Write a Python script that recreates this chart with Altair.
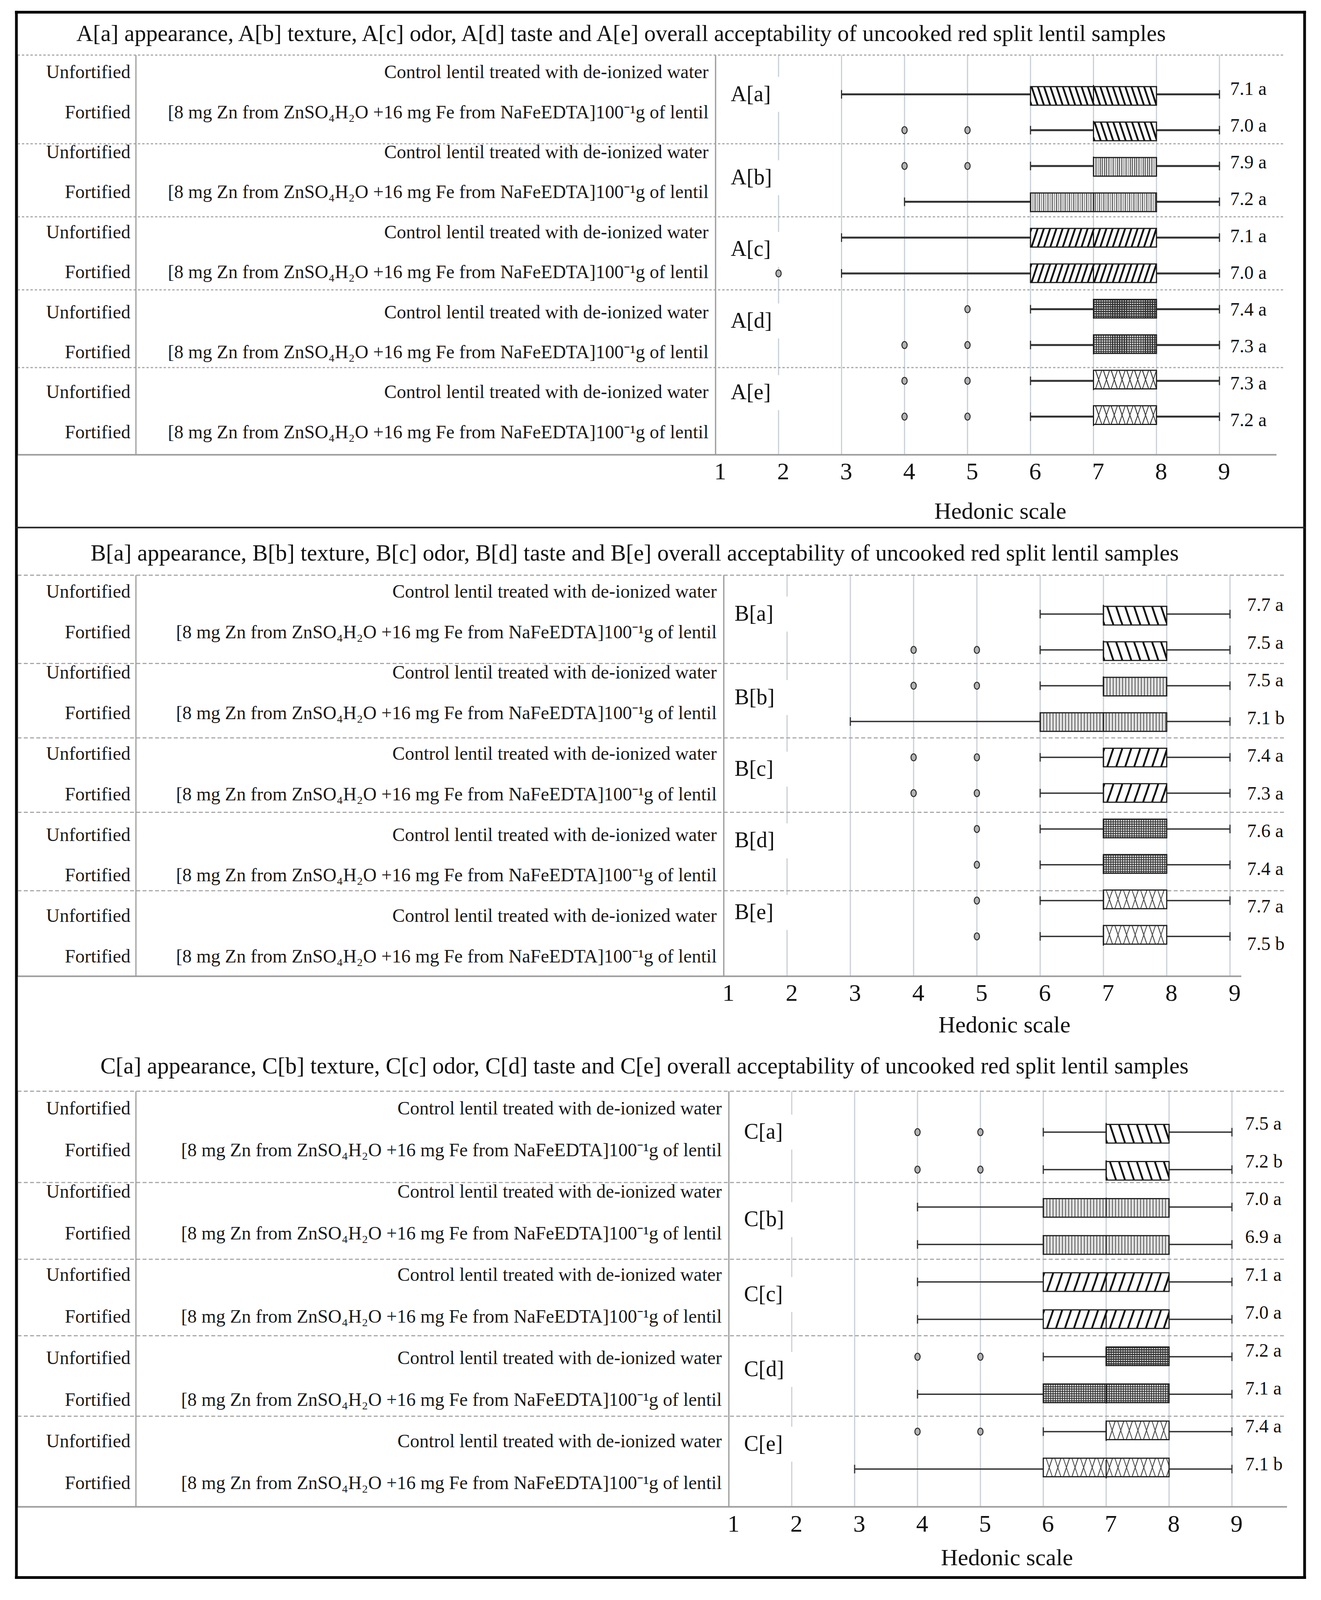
import altair as alt
import pandas as pd

SERIF = "Liberation Serif"

# ---------------- data ----------------
PANELS = ["A", "B", "C"]
TITLES = [
    "A[a] appearance, A[b] texture, A[c] odor, A[d] taste and A[e] overall acceptability of uncooked red split lentil samples",
    "B[a] appearance, B[b] texture, B[c] odor, B[d] taste and B[e] overall acceptability of uncooked red split lentil samples",
    "C[a] appearance, C[b] texture, C[c] odor, C[d] taste and C[e] overall acceptability of uncooked red split lentil samples",
]
TREATMENTS = ["Unfortified", "Fortified"]
DESCRIPTIONS = [
    "Control lentil treated with de-ionized water",
    "[8 mg Zn from ZnSO\u2084H\u2082O +16 mg Fe from NaFeEDTA]100\u207b\u00b9g of lentil",
]
ATTRIBUTES = ["a", "b", "c", "d", "e"]
HEDONIC_TICKS = [1, 2, 3, 4, 5, 6, 7, 8, 9]
AXIS_TITLE = "Hedonic scale"

# rows: [a] Unfortified, [a] Fortified, [b] Unfortified, ... [e] Fortified
WHISKER_LOW_A = [3, 6, 6, 4, 3, 3, 6, 6, 6, 6]
Q1_A = [6, 7, 7, 6, 6, 6, 7, 7, 7, 7]
MEDIAN_A = [7, 7, 7, 7, 7, 7, 7, 7, 7, 7]
Q3_A = [8, 8, 8, 8, 8, 8, 8, 8, 8, 8]
WHISKER_HIGH_A = [9, 9, 9, 9, 9, 9, 9, 9, 9, 9]
OUTLIERS_A = [[], [4, 5], [4, 5], [], [], [2], [5], [4, 5], [4, 5], [4, 5]]
MEANS_A = ["7.1 a", "7.0 a", "7.9 a", "7.2 a", "7.1 a", "7.0 a", "7.4 a", "7.3 a", "7.3 a", "7.2 a"]

WHISKER_LOW_B = [6, 6, 6, 3, 6, 6, 6, 6, 6, 6]
Q1_B = [7, 7, 7, 6, 7, 7, 7, 7, 7, 7]
MEDIAN_B = [7, 7, 7, 7, 7, 7, 7, 7, 7, 7]
Q3_B = [8, 8, 8, 8, 8, 8, 8, 8, 8, 8]
WHISKER_HIGH_B = [9, 9, 9, 9, 9, 9, 9, 9, 9, 9]
OUTLIERS_B = [[], [4, 5], [4, 5], [], [4, 5], [4, 5], [5], [5], [5], [5]]
MEANS_B = ["7.7 a", "7.5 a", "7.5 a", "7.1 b", "7.4 a", "7.3 a", "7.6 a", "7.4 a", "7.7 a", "7.5 b"]

WHISKER_LOW_C = [6, 6, 4, 4, 4, 4, 6, 4, 6, 3]
Q1_C = [7, 7, 6, 6, 6, 6, 7, 6, 7, 6]
MEDIAN_C = [7, 7, 7, 7, 7, 7, 7, 7, 7, 7]
Q3_C = [8, 8, 8, 8, 8, 8, 8, 8, 8, 8]
WHISKER_HIGH_C = [9, 9, 9, 9, 9, 9, 9, 9, 9, 9]
OUTLIERS_C = [[4, 5], [4, 5], [], [], [], [], [4, 5], [], [4, 5], []]
MEANS_C = ["7.5 a", "7.2 b", "7.0 a", "6.9 a", "7.1 a", "7.0 a", "7.2 a", "7.1 a", "7.4 a", "7.1 b"]

DATA = {
    "A": dict(lo=WHISKER_LOW_A, q1=Q1_A, med=MEDIAN_A, q3=Q3_A, hi=WHISKER_HIGH_A, out=OUTLIERS_A, mean=MEANS_A),
    "B": dict(lo=WHISKER_LOW_B, q1=Q1_B, med=MEDIAN_B, q3=Q3_B, hi=WHISKER_HIGH_B, out=OUTLIERS_B, mean=MEANS_B),
    "C": dict(lo=WHISKER_LOW_C, q1=Q1_C, med=MEDIAN_C, q3=Q3_C, hi=WHISKER_HIGH_C, out=OUTLIERS_C, mean=MEANS_C),
}

# ---------------- layout / style ----------------
# The photographed page is only ~4096 px tall, so the vertical layout is compressed by SY
SY = 4080 / 4713
OFF = 8                      # page margin
VIEW_W, VIEW_H = 3366, 4082


def vy(r):
    """reference-page y (px) -> view y"""
    return r * SY - OFF


TABLE_LEFT = 45 - OFF
W_TOTAL = 3245               # table + plot width of each panel
BORDER = dict(left=42 - OFF, right=3340 - OFF, top=vy(36), bottom=vy(4665), divider=vy(1560))
BOX_H = 55 * SY
GRID = "#c9d0d7"
TABLE_LINE = "#9c9c9c"

LAYOUT = {
    "A": dict(top=163, tw=1787, unit=161.25, ph=1182, b0=116, bs=105.9, t0=52, ts=118.3, l0=101, ls=108.9,
              seps=[262, 478, 694, 924], mean_x=9.17, glab_x=1.24, title_x=1545, title_y=-63,
              axis_title_y=168, axis_end=3223, dash=[6, 5], ww=5, diag=16),
    "B": dict(top=1701, tw=1808, unit=162.0, ph=1186, b0=115, bs=105.9, t0=50, ts=119.9, l0=90, ls=111.4,
              seps=[261, 481, 701, 933], mean_x=9.27, glab_x=1.17, title_x=1580, title_y=-64,
              axis_title_y=145, axis_end=3133, dash=[10, 6], ww=3.5, diag=23),
    "C": dict(top=3227, tw=1821, unit=161.0, ph=1229, b0=121, bs=110.7, t0=53, ts=123.0, l0=97, ls=112.0,
              seps=[270, 497, 723, 961], mean_x=9.21, glab_x=1.24, title_x=1605, title_y=-74,
              axis_title_y=152, axis_end=3250, dash=[10, 6], ww=3.5, diag=23),
}

CLEAR = "rgba(0,0,0,0)"


def patterns(p):
    d = LAYOUT[p]["diag"]
    if p == "A":
        return {
            "a": [("back", d, 5, "#111", "#ffffff")],
            "b": [("v", 5.5, 1.6, "#444", "#e2e2e2")],
            "c": [("fwd", d, 5, "#111", "#ffffff")],
            "d": [("v", 6, 2.2, "#333", "#d0d0d0"), ("h", 6, 2.2, "#333", CLEAR)],
            "e": [("fwd", 20, 2.5, "#444", "#ffffff"), ("back", 20, 2.5, "#444", CLEAR)],
        }
    return {
        "a": [("back", d, 5, "#111", "#ffffff")],
        "b": [("v", 8, 2.2, "#555", "#e0e0e0")],
        "c": [("fwd", d, 5, "#111", "#ffffff")],
        "d": [("v", 6, 2.4, "#333", "#d5d5d5"), ("h", 6, 2.4, "#333", CLEAR)],
        "e": [("fwd", 22, 2.5, "#555", "#ffffff"), ("back", 22, 2.5, "#555", CLEAR)],
    }


def gradient(kind, W, H, P, lw, col, bg, s=16.0):
    if kind == "v":
        x1, y1, x2, y2 = 0, 0, 1, 0
        per = P / W
    elif kind == "h":
        x1, y1, x2, y2 = 0, 0, 0, 1
        per = P / H
    else:
        dy = s / W
        K = 1 + dy
        per = P / (W * K * (1 + dy * dy))
        if kind == "fwd":
            x1, y1, x2, y2 = 0, 0, K, K * dy
        else:
            x1, y1, x2, y2 = 0, 1, K, 1 - K * dy
    f = lw / P
    stops = []
    k = 0
    while k * per < 1:
        a = k * per
        b = min(a + f * per, 1)
        c = min((k + 1) * per, 1)
        stops += [(a, col), (b, col), (b, bg), (c, bg)]
        k += 1
    return alt.LinearGradient(
        gradient="linear",
        stops=[alt.GradientStop(offset=round(o, 5), color=c) for o, c in stops],
        x1=x1, y1=y1, x2=x2, y2=y2,
    )


ELLIPSE = "M0,-1A0.75,1,0,1,1,0,1A0.75,1,0,1,1,0,-1Z"
WHITE_BAR = "M-0.15,-1H0.15V1H-0.15Z"


def one():
    return pd.DataFrame({"k": [0]})


def panel_layers(k):
    p = PANELS[k]
    L = LAYOUT[p]
    D = DATA[p]
    tw, unit, ph, b0, bs = L["tw"], L["unit"], L["ph"], L["b0"], L["bs"]
    ox = TABLE_LEFT
    oy = vy(L["top"])
    phs = ph * SY
    xmin = 1 - tw / unit
    xmax = 1 + (W_TOTAL - tw) / unit
    ymin = -b0 / bs
    ymax = (ph - b0) / bs
    xs = alt.Scale(domain=[xmin, xmax], range=[ox, ox + W_TOTAL], nice=False, zero=False)
    ys = alt.Scale(domain=[ymin, ymax], range=[oy, oy + phs], nice=False, zero=False)

    def X(f):
        return alt.X(f, type="quantitative", scale=xs, axis=None)

    def Y(f):
        return alt.Y(f, type="quantitative", scale=ys, axis=None)

    rows = []
    for i in range(10):
        g, t = divmod(i, 2)
        rows.append(dict(
            row=i, attr=ATTRIBUTES[g], trt=TREATMENTS[t], desc=DESCRIPTIONS[t],
            lo=D["lo"][i], q1=D["q1"][i], med=D["med"][i], q3=D["q3"][i], hi=D["hi"][i],
            mean=D["mean"][i], w=D["q3"][i] - D["q1"][i],
            ty=(L["t0"] + L["ts"] * i - b0) / bs,
            my=(L["l0"] + L["ls"] * i - b0) / bs,
            mx=L["mean_x"],
        ))
    df = pd.DataFrame(rows)

    out_rows = []
    for i, lst in enumerate(D["out"]):
        for v in lst:
            out_rows.append(dict(row=i, v=v))
    dfo = pd.DataFrame(out_rows)

    dfg = pd.DataFrame([
        dict(label=f"{p}[{a}]", gx=L["glab_x"], wx=2,
             gy=(0.0 if g == 0 else 2 * g + 0.5 - 18 / bs))
        for g, a in enumerate(ATTRIBUTES)
    ])

    dfs = pd.DataFrame({"sy": [(s - b0) / bs for s in [0] + L["seps"]]})
    dft = pd.DataFrame({"v": HEDONIC_TICKS})

    layers = []

    # vertical grid lines at the hedonic ticks
    layers.append(alt.Chart(dft).mark_rule(color=GRID, strokeWidth=3).encode(
        x=X("v"), y=alt.value(oy), y2=alt.value(oy + phs)))

    # table separators (dotted), table vertical lines
    layers.append(alt.Chart(dfs).mark_rule(color="#a8a8a8", strokeWidth=3, strokeDash=L["dash"]).encode(
        y=Y("sy"), x=alt.value(ox), x2=alt.value(ox + W_TOTAL)))
    for xv in [0, 303, tw]:
        layers.append(alt.Chart(one()).mark_rule(color=TABLE_LINE, strokeWidth=3).encode(
            x=alt.value(ox + xv), y=alt.value(oy), y2=alt.value(oy + phs)))
    # bottom line / hedonic axis line
    layers.append(alt.Chart(one()).mark_rule(color=TABLE_LINE, strokeWidth=4).encode(
        y=alt.value(oy + phs), x=alt.value(ox), x2=alt.value(ox + L["axis_end"])))
    # tick labels
    layers.append(alt.Chart(dft).mark_text(font=SERIF, fontSize=62, align="center", baseline="top",
                                           dx=12, color="#111").encode(
        x=X("v"), y=alt.value(oy + phs + 14), text="v:N"))
    # axis title
    layers.append(alt.Chart(pd.DataFrame({"t": [AXIS_TITLE]})).mark_text(
        font=SERIF, fontSize=60, align="center", baseline="middle", color="#111").encode(
        x=alt.value(ox + tw + (W_TOTAL - tw) / 2), y=alt.value(oy + phs + L["axis_title_y"] * SY),
        text="t:N"))

    # title
    layers.append(alt.Chart(pd.DataFrame({"t": [TITLES[k]]})).mark_text(
        font=SERIF, fontSize=59, align="center", baseline="middle", color="#111").encode(
        x=alt.value(ox + L["title_x"]), y=alt.value(oy + L["title_y"] * SY), text="t:N"))

    # table text
    layers.append(alt.Chart(df).mark_text(font=SERIF, fontSize=48, align="right", baseline="middle",
                                          color="#1a1a1a").encode(
        x=alt.value(ox + 289), y=Y("ty"), text="trt:N"))
    layers.append(alt.Chart(df).mark_text(font=SERIF, fontSize=48, align="right", baseline="middle",
                                          color="#1a1a1a").encode(
        x=alt.value(ox + tw - 18), y=Y("ty"), text="desc:N"))

    # whiskers
    layers.append(alt.Chart(df).mark_rule(color="#333", strokeWidth=L["ww"]).encode(
        x=X("lo"), x2=alt.X2("hi"), y=Y("row")))
    # whisker caps
    layers.append(alt.Chart(df).transform_fold(["lo", "hi"], as_=["end", "xv"]).mark_tick(
        orient="vertical", size=22, thickness=3, color="#333", opacity=1).encode(
        x=X("xv"), y=Y("row")))

    # pattern-filled boxes
    pats = patterns(p)
    for a in ATTRIBUTES:
        for wv in (1, 2):
            sub = df[(df["attr"] == a) & (df["w"] == wv)]
            if len(sub) == 0:
                continue
            for spec in pats[a]:
                kind, P, lw, col, bg = spec
                g = gradient(kind, wv * unit, BOX_H, P, lw, col, bg)
                layers.append(alt.Chart(sub).mark_bar(orient="horizontal", size=BOX_H, fill=g,
                                                      strokeWidth=0, opacity=1).encode(
                    x=X("q1"), x2=alt.X2("q3"), y=Y("row")))
    # box outlines
    layers.append(alt.Chart(df).mark_bar(orient="horizontal", size=BOX_H, filled=False,
                                         stroke="#1e1e1e", strokeWidth=3, opacity=1).encode(
        x=X("q1"), x2=alt.X2("q3"), y=Y("row")))
    # medians
    layers.append(alt.Chart(df).mark_tick(orient="vertical", size=BOX_H, thickness=3,
                                          color="#1e1e1e", opacity=1).encode(
        x=X("med"), y=Y("row")))
    # outliers
    layers.append(alt.Chart(dfo).mark_point(shape=ELLIPSE, size=324, filled=True, fill="#b3b3b3",
                                            stroke="#2a2a2a", strokeWidth=2.5, opacity=1).encode(
        x=X("v"), y=Y("row")))
    # mean labels
    layers.append(alt.Chart(df).mark_text(font=SERIF, fontSize=48, align="left", baseline="middle",
                                          color="#111").encode(
        x=X("mx"), y=Y("my"), text="mean:N"))
    # group labels with white gap in the x=2 grid line
    layers.append(alt.Chart(dfg).mark_point(shape=WHITE_BAR, size=8000, filled=True, fill="white",
                                            strokeWidth=0, opacity=1).encode(
        x=X("wx"), y=Y("gy")))
    layers.append(alt.Chart(dfg).mark_text(font=SERIF, fontSize=56, align="left", baseline="middle",
                                           color="#111").encode(
        x=X("gx"), y=Y("gy"), text="label:N"))
    return layers


all_layers = []
for k in range(3):
    all_layers += panel_layers(k)

# outer frame and the divider under the first panel
for xv in [BORDER["left"], BORDER["right"]]:
    all_layers.append(alt.Chart(one()).mark_rule(color="#000", strokeWidth=7, strokeCap="square").encode(
        x=alt.value(xv), y=alt.value(BORDER["top"]), y2=alt.value(BORDER["bottom"])))
for yv, sw in [(BORDER["top"], 7), (BORDER["bottom"], 7), (BORDER["divider"], 4)]:
    all_layers.append(alt.Chart(one()).mark_rule(color="#000" if sw > 5 else "#222", strokeWidth=sw,
                                                 strokeCap="square").encode(
        y=alt.value(yv), x=alt.value(BORDER["left"]), x2=alt.value(BORDER["right"])))

chart = alt.layer(*all_layers).resolve_scale(x="independent", y="independent").properties(
    width=VIEW_W, height=VIEW_H, padding=0,
    autosize=alt.AutoSizeParams(type="none"),
).configure_view(stroke=None)

chart.save("out.html", embed_options={"renderer": "svg", "actions": False})
